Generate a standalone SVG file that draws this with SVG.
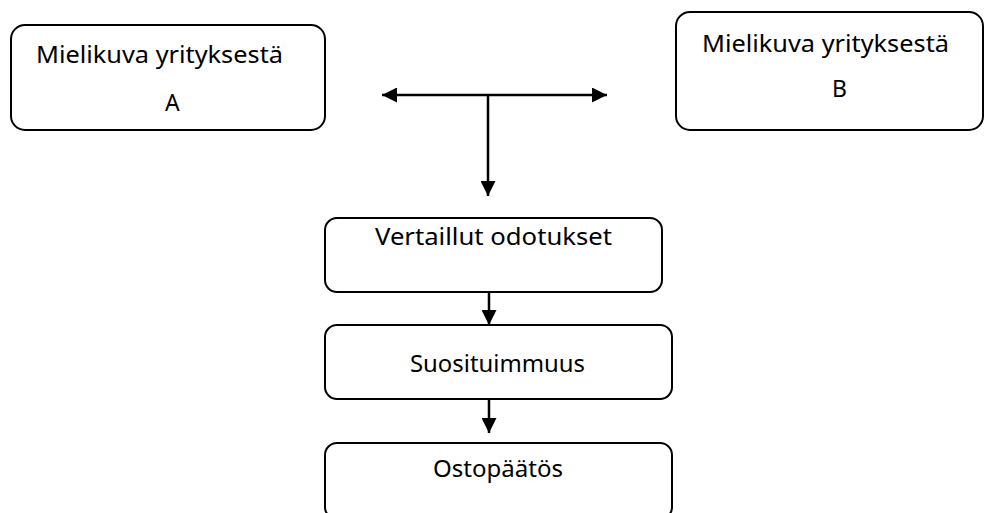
<svg xmlns="http://www.w3.org/2000/svg" width="985" height="513" viewBox="0 0 985 513">
<style>
.box{fill:#fff;stroke:#000;stroke-width:2}
.t{font-family:"Noto Sans","Open Sans","DejaVu Sans",sans-serif;font-size:23px;fill:#000}
.c{stroke:#000;stroke-width:2.5;fill:none}
</style>
<defs>
<marker id="ah" viewBox="0 0 15 15" refX="15" refY="7.5" markerWidth="15" markerHeight="15" markerUnits="userSpaceOnUse" orient="auto-start-reverse">
<path d="M0,0 L15,7.5 L0,15 Z" fill="#000"/>
</marker>
</defs>
<rect width="985" height="513" fill="#fff"/>
<g id="nodeA">
<rect class="box" x="11" y="25" width="314" height="105" rx="14"/>
<text class="t" x="36" y="63" textLength="247" lengthAdjust="spacingAndGlyphs">Mielikuva yrityksestä</text>
<text class="t" x="165" y="111">A</text>
</g>
<g id="nodeB">
<rect class="box" x="676" y="12" width="307" height="118" rx="14"/>
<text class="t" x="702" y="52" textLength="247" lengthAdjust="spacingAndGlyphs">Mielikuva yrityksestä</text>
<text class="t" x="832" y="97">B</text>
</g>
<g id="nodeV">
<rect class="box" x="325" y="218" width="337" height="74" rx="12"/>
<text class="t" x="375" y="245" textLength="237" lengthAdjust="spacingAndGlyphs">Vertaillut odotukset</text>
</g>
<g id="nodeS">
<rect class="box" x="325" y="325" width="347" height="74" rx="12"/>
<text class="t" x="410" y="372" textLength="175" lengthAdjust="spacingAndGlyphs">Suosituimmuus</text>
</g>
<g id="nodeO">
<rect class="box" x="325" y="443" width="347" height="76" rx="12"/>
<text class="t" x="433" y="477" textLength="130" lengthAdjust="spacingAndGlyphs">Ostopäätös</text>
</g>
<g id="connectors">
<line class="c" x1="382" y1="95" x2="607" y2="95" marker-start="url(#ah)" marker-end="url(#ah)"/>
<line class="c" x1="488" y1="95" x2="488" y2="196" marker-end="url(#ah)"/>
<line class="c" x1="489" y1="292" x2="489" y2="325" marker-end="url(#ah)"/>
<line class="c" x1="489" y1="399" x2="489" y2="433" marker-end="url(#ah)"/>
</g>
</svg>
